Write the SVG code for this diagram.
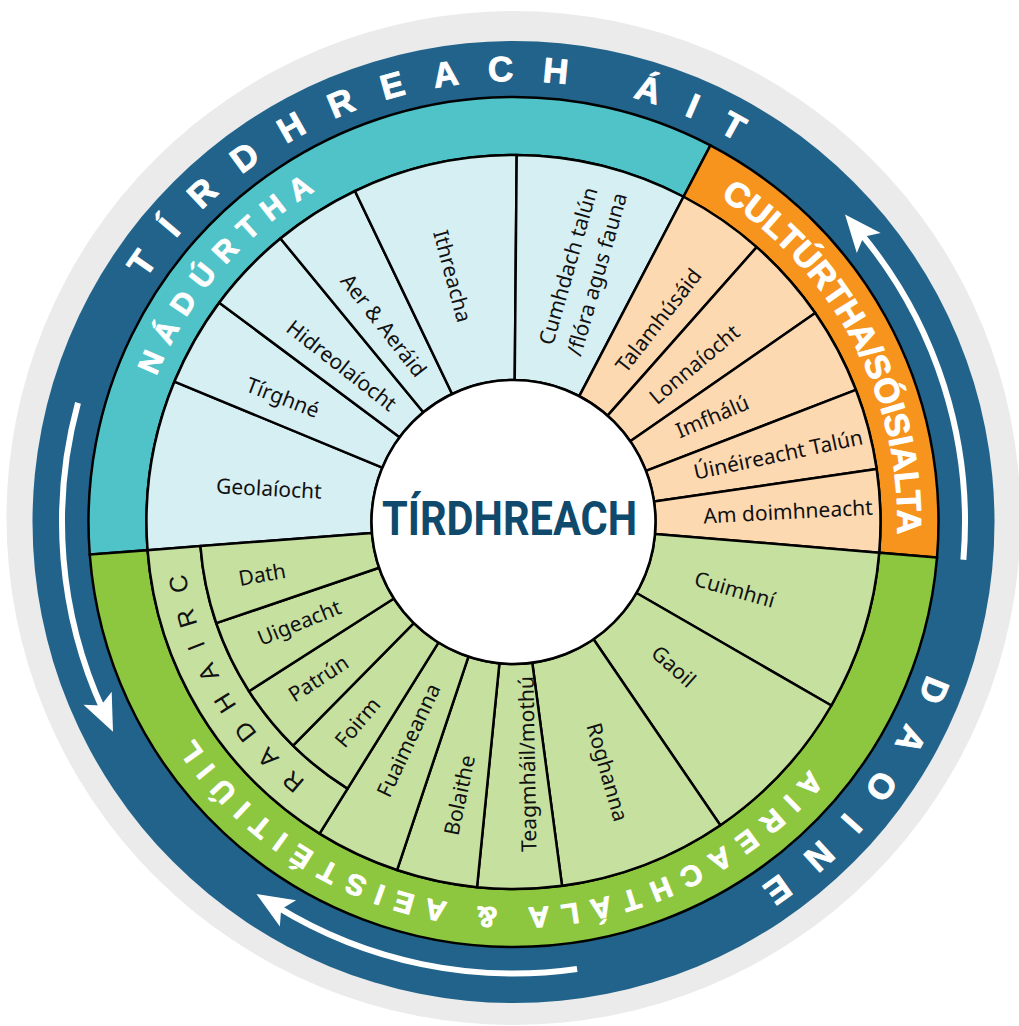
<svg xmlns="http://www.w3.org/2000/svg" width="1019" height="1026" viewBox="0 0 1019 1026">
<style>
.seg path{stroke:#000;stroke-width:2.5;stroke-linejoin:round}
.nat{fill:#d6eff3}.cul{fill:#fdd9b1}.per{fill:#c6e0a0}
.lbl{font-family:"Noto Sans","Open Sans",sans-serif;font-size:21px;fill:#111;text-anchor:middle;dominant-baseline:central}
.band path{stroke:#000;stroke-width:2.5}
.bt{font-family:"Liberation Sans",Arial,sans-serif;font-weight:bold;fill:#fff;stroke:#fff;stroke-width:0.9;stroke-linejoin:round}
.arrow{fill:none;stroke:#fff;stroke-width:6;marker-end:url(#ah)}
</style>
<defs>
<marker id="ah" markerUnits="userSpaceOnUse" markerWidth="80" markerHeight="80" viewBox="-30 -40 80 80" refX="0" refY="0" orient="auto" overflow="visible">
<path d="M24,0 L-13,-15.5 L-5,0 L-13,15.5 Z" fill="#fff"/>
</marker>
<path id="pTop" d="M145.75,278.59 A441 441 0 0 1 766.45,160.75"/>
<path id="pDaoine" d="M927.37,674.28 A441 441 0 0 1 734.0,903.92"/>
<path id="pNat" d="M156.11,376.15 A386 386 0 0 1 350.37,172.17"/>
<path id="pCul" d="M720.09,197.72 A384 384 0 0 1 896.04,555.47"/>
<path id="pAir" d="M809.63,769.6 A386 386 0 0 1 179.21,715"/>
<path id="pRad" d="M305.47,780.74 A332 332 0 0 1 182.31,545.16"/>
</defs>

<g id="background">
<circle cx="513.5" cy="518" r="507" fill="#ebebeb"/>
<circle cx="513.5" cy="522" r="481" fill="#21638a"/>
</g>

<g id="connectors">
<path class="arrow" d="M963.4,559.8 A451.5 451.5 0 0 0 860.4,233.0"/>
<path class="arrow" d="M78.0,402.9 A451.5 451.5 0 0 0 103.0,710.0"/>
<path class="arrow" d="M577.1,969.0 A451.5 451.5 0 0 1 276.9,906.6"/>
</g>

<g id="outer-labels">
<text class="bt" style="font-size:35px"><textPath href="#pTop" textLength="669" lengthAdjust="spacing">TÍRDHREACH ÁIT</textPath></text>
<text class="bt" style="font-size:35px"><textPath href="#pDaoine" textLength="274" lengthAdjust="spacing">DAOINE</textPath></text>
</g>

<g id="bands" class="band">
<g id="band-nadurtha">
<path fill="#50c3c8" d="M89.75,554.61 A425 425 0 0 1 710.40,145.36 L683.53,196.76 A367 367 0 0 0 147.58,550.16 Z"/>
<text class="bt" style="font-size:30px"><textPath href="#pNat" textLength="248" lengthAdjust="spacing">NÁDÚRTHA</textPath></text>
</g>
<g id="band-culturtha">
<path fill="#f7941d" d="M710.40,145.36 A425 425 0 0 1 937.01,557.56 L879.21,552.71 A367 367 0 0 0 683.53,196.76 Z"/>
<text class="bt" style="font-size:34px"><textPath href="#pCul" textLength="398" lengthAdjust="spacingAndGlyphs">CULTÚRTHA/SÓISIALTA</textPath></text>
</g>
<g id="band-aireachtala">
<path fill="#8dc63f" d="M937.01,557.56 A425 425 0 0 1 89.75,554.61 L147.58,550.16 A367 367 0 0 0 879.21,552.71 Z"/>
<text class="bt" style="font-size:29px"><textPath href="#pAir" textLength="714" lengthAdjust="spacing">AIREACHTÁLA &amp; AEISTÉITIÚIL</textPath></text>
</g>
</g>

<g id="segments" class="seg">
<g id="geolaiocht"><path class="nat" d="M147.58,550.16 A367 367 0 0 1 174.44,381.56 L382.31,467.66 A142 142 0 0 0 371.92,532.89 Z"/><text class="lbl" transform="translate(269,488) rotate(3)">Geolaíocht</text></g>
<g id="tirghne"><path class="nat" d="M174.44,381.56 A367 367 0 0 1 219.25,302.67 L399.65,437.14 A142 142 0 0 0 382.31,467.66 Z"/><text class="lbl" transform="translate(283,397) rotate(21)">Tírghné</text></g>
<g id="hidreolaiocht"><path class="nat" d="M219.25,302.67 A367 367 0 0 1 280.45,238.49 L423.33,412.30 A142 142 0 0 0 399.65,437.14 Z"/><text class="lbl" transform="translate(342,365) rotate(38)">Hidreolaíocht</text></g>
<g id="aer"><path class="nat" d="M280.45,238.49 A367 367 0 0 1 354.95,191.02 L452.15,393.94 A142 142 0 0 0 423.33,412.30 Z"/><text class="lbl" transform="translate(384,325) rotate(52)">Aer &amp; Aeráid</text></g>
<g id="ithreacha"><path class="nat" d="M354.95,191.02 A367 367 0 0 1 516.70,155.01 L514.74,380.01 A142 142 0 0 0 452.15,393.94 Z"/><text class="lbl" transform="translate(453,276) rotate(75)">Ithreacha</text></g>
<g id="cumhdach"><path class="nat" d="M516.70,155.01 A367 367 0 0 1 683.53,196.76 L579.29,396.16 A142 142 0 0 0 514.74,380.01 Z"/><g transform="translate(582,270) rotate(-74)"><text class="lbl" y="-15">Cumhdach talún</text><text class="lbl" y="15">/flóra agus fauna</text></g></g>

<g id="talamhusaid"><path class="cul" d="M683.53,196.76 A367 367 0 0 1 756.68,247.13 L607.59,415.65 A142 142 0 0 0 579.29,396.16 Z"/><text class="lbl" transform="translate(658,320) rotate(-52)">Talamhúsáid</text></g>
<g id="lonnaiocht"><path class="cul" d="M756.68,247.13 A367 367 0 0 1 815.23,313.07 L630.25,441.16 A142 142 0 0 0 607.59,415.65 Z"/><text class="lbl" transform="translate(694,364) rotate(-40)">Lonnaíocht</text></g>
<g id="imfhalu"><path class="cul" d="M815.23,313.07 A367 367 0 0 1 855.89,389.88 L645.98,470.88 A142 142 0 0 0 630.25,441.16 Z"/><text class="lbl" transform="translate(712,416) rotate(-23)">Imfhálú</text></g>
<g id="uineireacht"><path class="cul" d="M855.89,389.88 A367 367 0 0 1 876.66,469.02 L654.01,501.50 A142 142 0 0 0 645.98,470.88 Z"/><text class="lbl" transform="translate(778,454) rotate(-12)">Úinéireacht Talún</text></g>
<g id="am-doimhneacht"><path class="cul" d="M876.66,469.02 A367 367 0 0 1 879.21,552.71 L655.00,533.88 A142 142 0 0 0 654.01,501.50 Z"/><text class="lbl" transform="translate(788,511) rotate(-3)">Am doimhneacht</text></g>

<g id="cuimhni"><path class="per" d="M879.21,552.71 A367 367 0 0 1 831.33,705.50 L636.48,593.00 A142 142 0 0 0 655.00,533.88 Z"/><text class="lbl" transform="translate(735,589) rotate(16)">Cuimhní</text></g>
<g id="gaoil"><path class="per" d="M831.33,705.50 A367 367 0 0 1 720.33,825.20 L593.53,639.31 A142 142 0 0 0 636.48,593.00 Z"/><text class="lbl" transform="translate(674,666) rotate(42)">Gaoil</text></g>
<g id="roghanna"><path class="per" d="M720.33,825.20 A367 367 0 0 1 562.04,885.78 L532.28,662.75 A142 142 0 0 0 593.53,639.31 Z"/><text class="lbl" transform="translate(608,772) rotate(74)">Roghanna</text></g>
<g id="teagmhail"><path class="per" d="M562.04,885.78 A367 367 0 0 1 477.05,887.19 L499.40,663.30 A142 142 0 0 0 532.28,662.75 Z"/><text class="lbl" transform="translate(527,764) rotate(-91)">Teagmháil/mothú</text></g>
<g id="bolaithe"><path class="per" d="M477.05,887.19 A367 367 0 0 1 397.05,870.03 L468.44,656.66 A142 142 0 0 0 499.40,663.30 Z"/><text class="lbl" transform="translate(459,795) rotate(-78)">Bolaithe</text></g>
<g id="fuaimeanna"><path class="per" d="M397.05,870.03 A367 367 0 0 1 319.56,833.57 L438.46,642.55 A142 142 0 0 0 468.44,656.66 Z"/><text class="lbl" transform="translate(408,740) rotate(-65)">Fuaimeanna</text></g>
<g id="radhairc"><path class="per" d="M319.56,833.57 A367 367 0 0 1 147.58,550.16 L200.43,546.09 A314 314 0 0 0 347.57,788.58 Z"/><text font-family="Liberation Sans,Arial,sans-serif" style="font-size:25px" fill="#111"><textPath href="#pRad" textLength="245" lengthAdjust="spacing">RADHAIRC</textPath></text></g>
<g id="foirm"><path class="per" d="M347.57,788.58 A314 314 0 0 1 293.02,745.58 L413.79,623.11 A142 142 0 0 0 438.46,642.55 Z"/><text class="lbl" transform="translate(357,722) rotate(-50)">Foirm</text></g>
<g id="patrun"><path class="per" d="M293.02,745.58 A314 314 0 0 1 249.02,691.25 L393.89,598.54 A142 142 0 0 0 413.79,623.11 Z"/><text class="lbl" transform="translate(318,678) rotate(-33)">Patrún</text></g>
<g id="uigeacht"><path class="per" d="M249.02,691.25 A314 314 0 0 1 216.25,623.19 L379.08,567.76 A142 142 0 0 0 393.89,598.54 Z"/><text class="lbl" transform="translate(299,622) rotate(-22)">Uigeacht</text></g>
<g id="dath"><path class="per" d="M216.25,623.19 A314 314 0 0 1 200.43,546.09 L371.92,532.89 A142 142 0 0 0 379.08,567.76 Z"/><text class="lbl" transform="translate(262,574) rotate(-10)">Dath</text></g>
</g>

<g id="center">
<circle cx="513.5" cy="522" r="142" fill="#fff" stroke="#000" stroke-width="2.5"/>
<text x="509.5" y="535" font-family="Roboto,'Liberation Sans',sans-serif" font-weight="bold" font-size="48" fill="#0f4a6c" text-anchor="middle" textLength="255" lengthAdjust="spacingAndGlyphs">TÍRDHREACH</text>
</g>
</svg>
